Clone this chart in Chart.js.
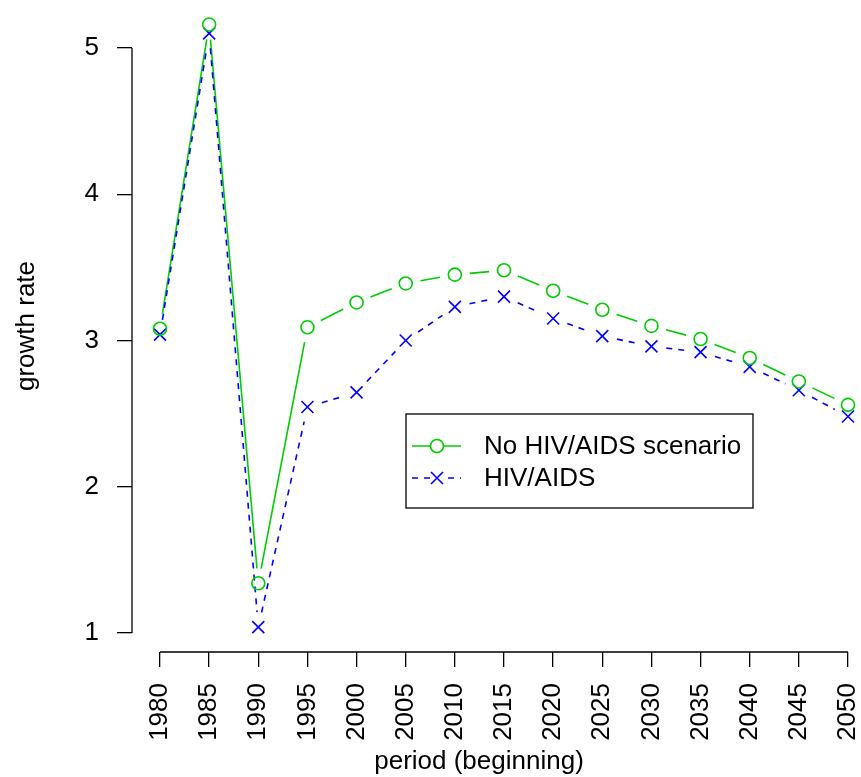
<!DOCTYPE html>
<html>
<head>
<meta charset="utf-8">
<script src="https://cdn.jsdelivr.net/npm/chart.js@4/dist/chart.umd.min.js"></script>
<style>
  html, body { margin: 0; padding: 0; background: #fff; }
  #wrap { width: 861px; height: 777px; }
</style>
</head>
<body>
<div id="wrap"><canvas id="myChart" width="861" height="777"></canvas></div>
<script>
var years = [1980, 1985, 1990, 1995, 2000, 2005, 2010, 2015, 2020, 2025, 2030, 2035, 2040, 2045, 2050];
var noAids = [3.08, 5.16, 1.34, 3.09, 3.26, 3.39, 3.45, 3.48, 3.34, 3.21, 3.10, 3.01, 2.88, 2.72, 2.56];
var withAids = [3.04, 5.10, 1.04, 2.545, 2.645, 3.00, 3.23, 3.30, 3.15, 3.03, 2.96, 2.92, 2.82, 2.66, 2.48];
var yTicks = [1, 2, 3, 4, 5];

var GREEN = '#00CD00';
var BLUE = '#0000FF';
var FONT = '"Liberation Sans", Arial, sans-serif';

function pts(vals) {
    return years.map(function(y, i) { return { x: y, y: vals[i] }; });
}

// no extra room for the end labels: the plot runs to the canvas edges
function noPad(s) {
    s.paddingLeft = 0; s.paddingRight = 0; s.paddingTop = 0; s.paddingBottom = 0;
}

// R type="b": segments between points, with a gap round each point
var gapLines = {
    id: 'gapLines',
    beforeDatasetsDraw: function(chart) {
        var ctx = chart.ctx;
        var gap = 15;
        chart.data.datasets.forEach(function(ds, di) {
            var meta = chart.getDatasetMeta(di);
            ctx.save();
            ctx.strokeStyle = ds.borderColor;
            ctx.lineWidth = 1.6;
            ctx.setLineDash(ds.dash || []);
            for (var i = 0; i < meta.data.length - 1; i++) {
                var a = meta.data[i], b = meta.data[i + 1];
                var dx = b.x - a.x, dy = b.y - a.y;
                var len = Math.sqrt(dx * dx + dy * dy);
                if (len <= 2 * gap) continue;
                var ux = dx / len, uy = dy / len;
                ctx.beginPath();
                ctx.moveTo(a.x + ux * gap, a.y + uy * gap);
                ctx.lineTo(b.x - ux * gap, b.y - uy * gap);
                ctx.stroke();
            }
            ctx.restore();
        });
    }
};

// axis lines, axis titles and legend box, R style
var decor = {
    id: 'decor',
    afterDraw: function(chart) {
        var ctx = chart.ctx;
        var xs = chart.scales.x, ys = chart.scales.y;
        var area = chart.chartArea;
        ctx.save();
        ctx.strokeStyle = '#000';
        ctx.lineWidth = 1.3;
        ctx.setLineDash([]);
        ctx.beginPath();
        ctx.moveTo(xs.getPixelForValue(years[0]), area.bottom);
        ctx.lineTo(xs.getPixelForValue(years[years.length - 1]), area.bottom);
        ctx.moveTo(area.left, ys.getPixelForValue(yTicks[0]));
        ctx.lineTo(area.left, ys.getPixelForValue(yTicks[yTicks.length - 1]));
        ctx.stroke();

        ctx.fillStyle = '#000';
        ctx.font = '26px ' + FONT;
        ctx.textAlign = 'center';
        ctx.textBaseline = 'middle';
        ctx.fillText('period (beginning)', 479, 762);
        ctx.translate(27, 326);
        ctx.rotate(-Math.PI / 2);
        ctx.fillText('growth rate', 0, 0);
        ctx.restore();

        // legend
        ctx.save();
        ctx.strokeStyle = '#000';
        ctx.lineWidth = 1.3;
        ctx.strokeRect(406, 414, 347, 94);
        var rows = [446, 478];
        chart.data.datasets.forEach(function(ds, i) {
            var y = rows[i];
            ctx.strokeStyle = ds.borderColor;
            ctx.lineWidth = 1.6;
            ctx.setLineDash(ds.dash || []);
            ctx.beginPath();
            ctx.moveTo(412, y);
            ctx.lineTo(461, y);
            ctx.stroke();
            ctx.setLineDash([]);
            if (i === 0) {
                ctx.fillStyle = '#fff';
                ctx.beginPath();
                ctx.arc(437, y, 6.5, 0, Math.PI * 2);
                ctx.fill();
                ctx.stroke();
            } else {
                ctx.fillStyle = '#fff';
                ctx.fillRect(430, y - 7, 14, 14);
                ctx.beginPath();
                ctx.moveTo(431, y - 6); ctx.lineTo(443, y + 6);
                ctx.moveTo(431, y + 6); ctx.lineTo(443, y - 6);
                ctx.stroke();
            }
            ctx.fillStyle = '#000';
            ctx.font = '26px ' + FONT;
            ctx.textAlign = 'left';
            ctx.textBaseline = 'middle';
            ctx.fillText(ds.label, 484, y + 1);
        });
        ctx.restore();
    }
};

var ctx = document.getElementById('myChart').getContext('2d');
var chart = new Chart(ctx, {
    type: 'scatter',
    data: {
        datasets: [{
            label: 'No HIV/AIDS scenario',
            data: pts(noAids),
            borderColor: GREEN,
            backgroundColor: 'rgba(0,0,0,0)',
            pointStyle: 'circle',
            pointRadius: 6.5,
            pointBorderWidth: 1.6,
            showLine: false
        }, {
            label: 'HIV/AIDS',
            data: pts(withAids),
            borderColor: BLUE,
            backgroundColor: 'rgba(0,0,0,0)',
            pointStyle: 'crossRot',
            pointRadius: 8.5,
            pointBorderWidth: 1.6,
            showLine: false,
            dash: [6, 6]
        }]
    },
    options: {
        responsive: false,
        animation: false,
        layout: { padding: 0, autoPadding: false },
        plugins: {
            legend: { display: false },
            tooltip: { enabled: false }
        },
        scales: {
            x: {
                type: 'linear',
                min: 1977.151,
                max: 2051.323,
                afterBuildTicks: function(s) { s.ticks = years.map(function(v) { return { value: v }; }); },
                afterFit: function(s) { s.height = 125; noPad(s); },
                border: { display: false },
                grid: { drawOnChartArea: false, drawTicks: true, tickLength: 15, color: '#000', lineWidth: 1.3 },
                ticks: {
                    autoSkip: false,
                    minRotation: 90,
                    maxRotation: 90,
                    padding: 16,
                    color: '#000',
                    font: { size: 26, family: FONT },
                    callback: function(v) { return String(v); }
                }
            },
            y: {
                min: 0.870,
                max: 5.328,
                afterBuildTicks: function(s) { s.ticks = yTicks.map(function(v) { return { value: v }; }); },
                afterFit: function(s) { s.width = 132; noPad(s); },
                border: { display: false },
                grid: { drawOnChartArea: false, drawTicks: true, tickLength: 15, color: '#000', lineWidth: 1.3 },
                ticks: {
                    padding: 18,
                    color: '#000',
                    font: { size: 26, family: FONT },
                    callback: function(v) { return String(v); }
                }
            }
        }
    },
    plugins: [gapLines, decor]
});
</script>
</body>
</html>
